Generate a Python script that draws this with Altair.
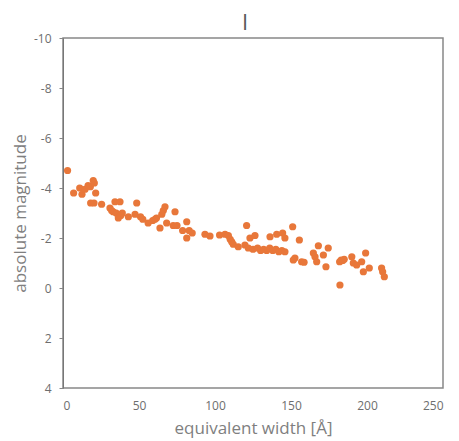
import altair as alt
import pandas as pd

ew = [3, 7, 11, 12.5, 14.5, 16.5, 18, 19.9, 20.6, 21.5, 18.2, 20.4, 25.4, 30.9, 32, 33,
      34.2, 37.5, 35, 36.4, 38, 39, 43, 48.5, 47.4, 51, 52.5, 56, 59, 60.5, 61.5, 63.8,
      66, 67.1, 65, 68.2, 73.7, 72.5, 75, 78.7, 81.4, 81.4, 83, 85, 93.4, 96.7, 103,
      106.6, 108.8, 110, 111, 112, 115.3, 120.8, 119.7, 121.9, 123, 126.3, 125, 128,
      130, 132, 134, 136, 138, 140, 142, 144, 146, 136.2, 140.6, 144.5, 146, 151.1,
      155.5, 152.6, 151.5, 157, 158.6, 168, 164.7, 165.8, 166.9, 171.3, 174.5, 173,
      182.2, 182, 183, 184, 185, 190, 191, 193.2, 196.5, 197.6, 199.1, 201.5, 209.6,
      210.3, 211.4]
mag = [-4.7, -3.8, -4.0, -3.75, -3.95, -4.1, -4.05, -4.3, -4.2, -3.8, -3.4, -3.4, -3.35,
       -3.2, -3.1, -3.05, -3.45, -3.45, -3.0, -2.8, -2.9, -3.0, -2.85, -3.4, -2.95, -2.85,
       -2.75, -2.6, -2.7, -2.75, -2.8, -2.4, -3.1, -3.25, -2.95, -2.6, -3.05, -2.5, -2.5,
       -2.3, -2.65, -2.0, -2.3, -2.2, -2.15, -2.08, -2.12, -2.15, -2.1, -1.95, -1.85,
       -1.75, -1.65, -2.5, -1.72, -1.6, -2.0, -2.1, -1.55, -1.6, -1.5, -1.55, -1.5, -1.6,
       -1.5, -1.55, -1.45, -1.5, -1.45, -2.05, -2.15, -2.2, -2.0, -2.45, -1.92, -1.2,
       -1.12, -1.05, -1.03, -1.69, -1.4, -1.25, -1.05, -1.32, -1.6, -0.85, -0.12, -1.05,
       -1.12, -1.1, -1.15, -1.25, -1.0, -0.92, -1.05, -0.65, -1.4, -0.8, -0.8, -0.65,
       -0.45]

x_ticks = [0, 50, 100, 150, 200, 250]
y_ticks = [-10, -8, -6, -4, -2, 0, 2, 4]

df = pd.DataFrame({"ew": ew, "mag": mag})

FONT = "Open Sans"
GRAY = "#7f7f7f"

chart = alt.Chart(df).mark_circle(size=52, color="#E8773A", opacity=1).encode(
    x=alt.X("ew:Q", scale=alt.Scale(domain=[0, 250], nice=False),
            axis=alt.Axis(values=x_ticks, title="equivalent width [Å]", grid=False,
                          ticks=False, domain=False, labelPadding=12,
                          titlePadding=9, labelExpr="'' + datum.value")),
    y=alt.Y("mag:Q", scale=alt.Scale(domain=[-10, 4], reverse=True, nice=False),
            axis=alt.Axis(values=y_ticks, title="absolute magnitude", grid=False,
                          tickSize=4, tickColor="#888888", domain=True,
                          domainColor="#777777", labelPadding=8, titlePadding=4,
                          labelExpr="'' + datum.value")),
).properties(
    width=380, height=350,
    title=alt.TitleParams("I", fontSize=22, font=FONT, color="#595959",
                          fontWeight="normal", offset=-3, dx=-8),
    autosize=alt.AutoSizeParams(type="none"),
    padding={"left": 55, "top": 30, "right": 8, "bottom": 53},
).configure_view(
    stroke="#888888", strokeWidth=1.5
).configure_axis(
    labelFont=FONT, titleFont=FONT, labelColor="#6e6e6e", titleColor=GRAY,
    labelFontSize=12, titleFontSize=17, titleFontWeight="normal"
)

chart.save("out.html", embed_options={"renderer": "svg", "actions": False})
